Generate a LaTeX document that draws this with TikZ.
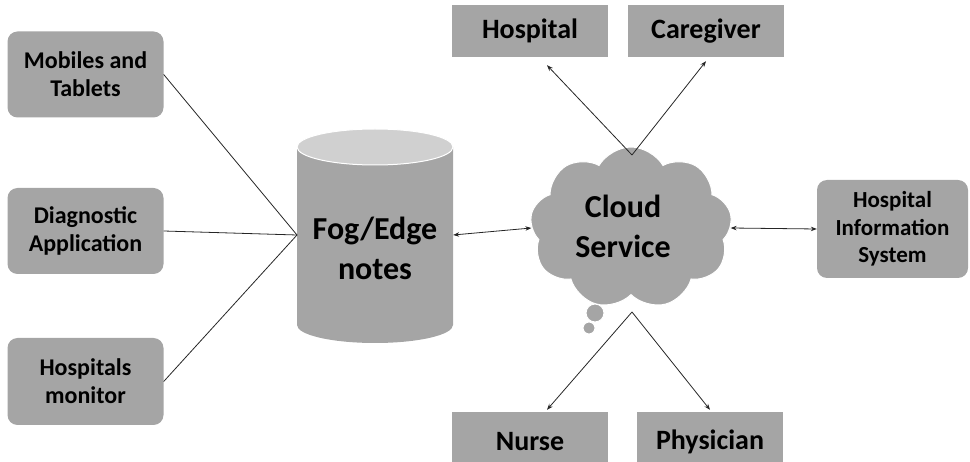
\documentclass[tikz,border=0pt]{standalone}
\usepackage{fontspec}
\setmainfont{Carlito}
\usetikzlibrary{shapes.symbols,arrows.meta}
\definecolor{boxgray}{HTML}{A5A5A5}
\definecolor{topgray}{HTML}{D0D0D0}
\begin{document}
\begin{tikzpicture}[x=1pt,y=-1pt,
 rbox/.style={fill=boxgray, rounded corners=10pt, align=center, font=\fontsize{24}{28}\selectfont\bfseries, inner sep=0pt},
 sbox/.style={fill=boxgray, align=center, font=\fontsize{28}{30}\selectfont\bfseries, inner sep=0pt},
 link/.style={draw=black!85, line width=0.8pt},
 tipend/.style={-{Stealth[length=6pt,width=4.5pt]}},
 tipboth/.style={{Stealth[length=6pt,width=4.5pt]}-{Stealth[length=6pt,width=4.5pt]}}]
\useasboundingbox (0,0) rectangle (970,462);
% left boxes
\node[rbox, minimum width=156pt, minimum height=86pt] (mob) at (85.5,74.5) {Mobiles and\\Tablets};
\node[rbox, minimum width=156pt, minimum height=86pt] (diag) at (85.5,231) {Diagnostic\\Application};
\node[rbox, minimum width=156pt, minimum height=87pt] (mon) at (85.5,381.5) {Hospitals\\monitor};
% HIS
\node[rbox, font=\fontsize{23}{27.5}\selectfont\bfseries, minimum width=151pt, minimum height=98pt] (his) at (892.5,229) {Hospital\\Information\\System};
% top / bottom boxes
\node[sbox, minimum width=156pt, minimum height=52pt] (hosp) at (530,31) {Hospital};
\node[sbox, minimum width=156pt, minimum height=52pt] (care) at (706,31) {Caregiver};
\node[sbox, minimum width=156pt, minimum height=60pt] (nurse) at (530,442) {Nurse};
\node[sbox, minimum width=146pt, minimum height=60pt] (phys) at (710,442) {Physician};
% cylinder
\fill[boxgray] (297,147) -- (297,325) arc[start angle=180,end angle=0,x radius=78,y radius=18] -- (453,147) -- cycle;
\filldraw[fill=topgray, draw=white, line width=1pt] (375,147) ellipse[x radius=78, y radius=18];
\node[minimum width=156pt, minimum height=178pt, inner sep=0pt] (fog) at (375,235) {};
\node[align=center, font=\fontsize{32}{40}\selectfont\bfseries] (foglabel) at (375,248) {Fog/Edge\\notes};
% cloud
\node[cloud, cloud puffs=9, cloud puff arc=120, aspect=1.25, fill=boxgray, draw=white, line width=1pt, minimum width=202pt, minimum height=162pt, inner sep=0pt] (cloud) at (631,228) {};
\node[align=center, font=\fontsize{32}{40}\selectfont\bfseries] (cloudlabel) at (623,226) {Cloud\\Service};
\filldraw[fill=boxgray, draw=white, line width=1pt] (595,313) circle[radius=9];
\filldraw[fill=boxgray, draw=white, line width=1pt] (589,328) circle[radius=6];
\coordinate (ctop) at (632,155);
\coordinate (cbot) at (632,312);
\coordinate (conv) at (297,235);
% connectors
\draw[link] (mob.east) -- (conv);
\draw[link] (diag.east) -- (conv);
\draw[link] (mon.east) -- (conv);
\draw[link, tipboth] (fog.east) -- (cloud.west);
\draw[link, tipboth] (cloud.east) -- (his.west);
\draw[link, tipend] (ctop) -- ([xshift=17pt,yshift=-8pt]hosp.south);
\draw[link, tipend] (ctop) -- ([yshift=-4pt]care.south);
\draw[link, tipend] (cbot) -- ([xshift=17pt,yshift=2pt]nurse.north);
\draw[link, tipend] (cbot) -- ([yshift=2pt]phys.north);
\end{tikzpicture}
\end{document}
